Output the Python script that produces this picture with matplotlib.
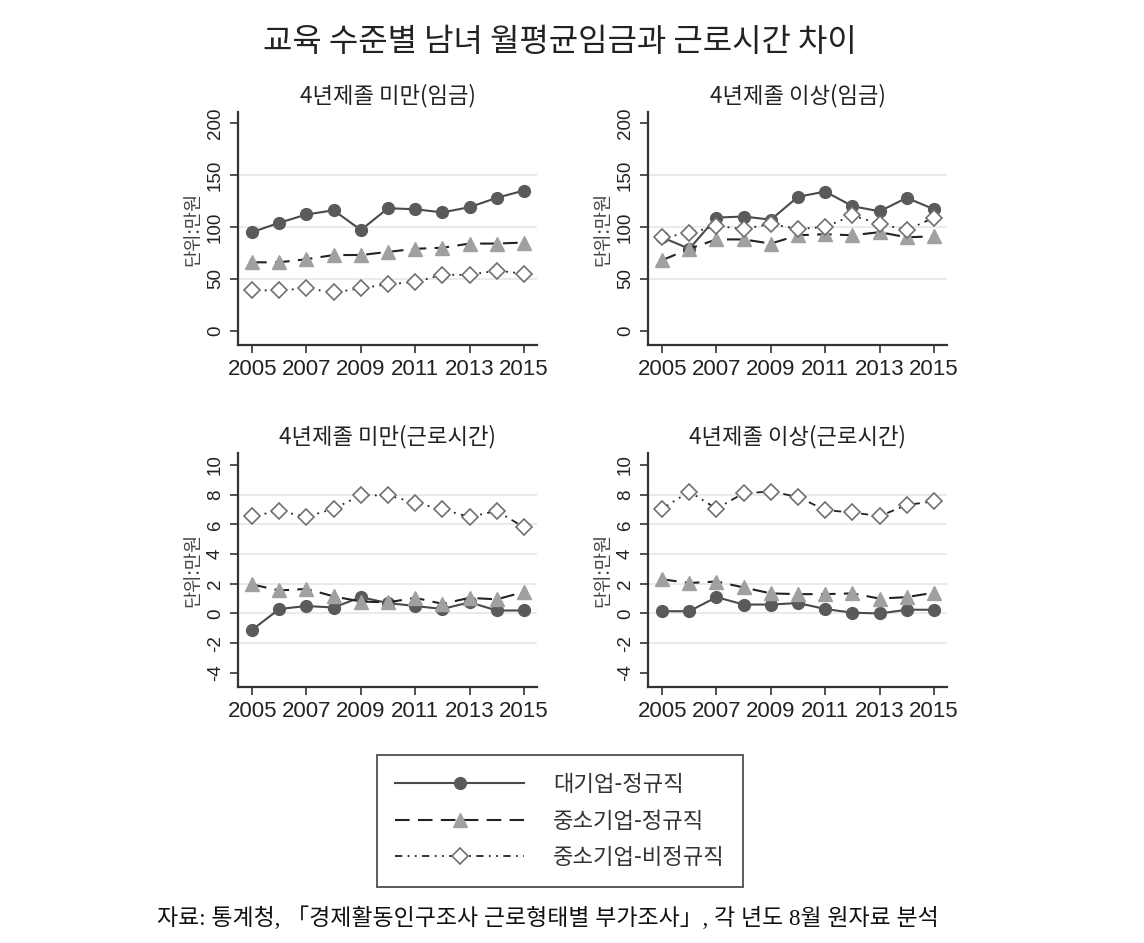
import matplotlib
matplotlib.use("Agg")
import matplotlib.pyplot as plt
from matplotlib.lines import Line2D

plt.rcParams['font.family'] = ['Noto Sans CJK KR', 'DejaVu Sans']

years = list(range(2005, 2016))

# 임금 (단위: 만원)
wage_low_large = [95, 104, 112, 116, 97, 118, 117, 114, 119, 128, 135]
wage_low_sme = [66, 66, 69, 73, 73, 76, 79, 80, 84, 84, 85]
wage_low_nonreg = [39, 39, 41, 37, 41, 45, 47, 54, 54, 58, 55]

wage_high_large = [90, 79, 109, 110, 107, 129, 134, 120, 115, 128, 117]
wage_high_sme = [68, 79, 88, 88, 84, 92, 93, 92, 95, 90, 91]
wage_high_nonreg = [90, 94, 101, 98, 103, 98, 100, 111, 103, 97, 109]

# 근로시간
hour_low_large = [-1.1, 0.3, 0.5, 0.4, 1.1, 0.7, 0.5, 0.3, 0.75, 0.2, 0.2]
hour_low_sme = [1.95, 1.55, 1.65, 1.15, 0.8, 0.75, 1.05, 0.65, 1.05, 0.95, 1.45]
hour_low_nonreg = [6.55, 6.9, 6.5, 7.05, 7.95, 7.95, 7.45, 7.0, 6.5, 6.9, 5.8]

hour_high_large = [0.15, 0.15, 1.1, 0.6, 0.6, 0.7, 0.3, 0.05, 0.0, 0.25, 0.25]
hour_high_sme = [2.3, 2.05, 2.15, 1.75, 1.35, 1.3, 1.3, 1.35, 1.0, 1.1, 1.4]
hour_high_nonreg = [7.05, 8.2, 7.05, 8.1, 8.2, 7.85, 6.95, 6.8, 6.55, 7.3, 7.55]

series_names = ["대기업-정규직", "중소기업-정규직", "중소기업-비정규직"]
panel_titles = ["4년제졸 미만(임금)", "4년제졸 이상(임금)",
                "4년제졸 미만(근로시간)", "4년제졸 이상(근로시간)"]
year_ticks = [2005, 2007, 2009, 2011, 2013, 2015]
wage_ticks = [0, 50, 100, 150, 200]
hour_ticks = [-4, -2, 0, 2, 4, 6, 8, 10]

W, H = 1144, 943
fig = plt.figure(figsize=(W / 100, H / 100), dpi=100)


def px_axes(l, t, r, b):
    return fig.add_axes([l / W, 1 - b / H, (r - l) / W, (b - t) / H])


styles = [
    dict(color="#4a4a4a", lw=1.5, ls="-", marker="o", ms=8.5,
         mfc="#5a5a5a", mec="#5a5a5a"),
    dict(color="#222222", lw=1.5, ls=(0, (7, 4)), marker="^", ms=9.5,
         mfc="#a0a0a0", mec="#a0a0a0"),
    dict(color="#222222", lw=1.3, ls=(0, (4, 3, 1, 3, 1, 3)), marker="D", ms=8,
         mfc="white", mec="#707070", mew=1.2),
]


def draw_panel(box, title, data, ticks, ylim):
    ax = px_axes(*box)
    for t in ticks[1:-1]:
        ax.axhline(t, color="#e6e6e6", lw=1.2, zorder=0)
    for vals, st in zip(data, styles):
        ax.plot(years, vals, **st, zorder=3)
    ax.set_xlim(2004.48, 2015.48)
    ax.set_ylim(*ylim)
    ax.set_xticks(year_ticks)
    ax.set_xticklabels([str(y) for y in year_ticks],
                       family=['Liberation Sans'], fontsize=16, color="#222222")
    ax.set_yticks(ticks)
    ax.set_yticklabels([str(t) for t in ticks], rotation=90, va="center",
                       family=['Liberation Sans'], fontsize=13.5, color="#222222")
    for s in ["top", "right"]:
        ax.spines[s].set_visible(False)
    for s in ["left", "bottom"]:
        ax.spines[s].set_color("#333333")
        ax.spines[s].set_linewidth(1.6)
    ax.tick_params(length=6, width=1.2, color="#333333", pad=4)
    ax.set_ylabel("단위:만원", fontsize=13.5, color="#444444", labelpad=3)
    ax.set_title(title, fontsize=16, color="#222222", pad=7)
    return ax


wage_ylim = (-13.5, 210.5)
hour_ylim = (-4.95, 10.8)

ax1 = draw_panel((238, 112, 537, 345), panel_titles[0],
                 [wage_low_large, wage_low_sme, wage_low_nonreg], wage_ticks, wage_ylim)
ax2 = draw_panel((648, 112, 947, 345), panel_titles[1],
                 [wage_high_large, wage_high_sme, wage_high_nonreg], wage_ticks, wage_ylim)
ax3 = draw_panel((238, 453, 537, 687), panel_titles[2],
                 [hour_low_large, hour_low_sme, hour_low_nonreg], hour_ticks, hour_ylim)
ax4 = draw_panel((648, 453, 947, 687), panel_titles[3],
                 [hour_high_large, hour_high_sme, hour_high_nonreg], hour_ticks, hour_ylim)

fig.text(560 / W, 1 - 42 / H, "교육 수준별 남녀 월평균임금과 근로시간 차이",
         ha="center", va="center", fontsize=23, color="#222222")

handles = [Line2D([], [], **st) for st in styles]
leg = fig.legend(handles, series_names, loc="center",
                 bbox_to_anchor=(560 / W, 1 - 821 / H),
                 numpoints=1, handlelength=5.8, handletextpad=1.3,
                 labelspacing=0.6, borderpad=0.8, borderaxespad=0,
                 fontsize=16, frameon=True, fancybox=False, edgecolor="#222222")
leg.get_frame().set_linewidth(1.3)
for t in leg.get_texts():
    t.set_color("#333333")

fig.text(548 / W, 1 - 918 / H,
         "자료: 통계청, 「경제활동인구조사 근로형태별 부가조사」, 각 년도 8월 원자료 분석",
         ha="center", va="center", fontsize=16.5,
         family=['Liberation Serif', 'Noto Sans CJK KR'], color="#111111")

fig.savefig("out.png", dpi=100, facecolor="white")
